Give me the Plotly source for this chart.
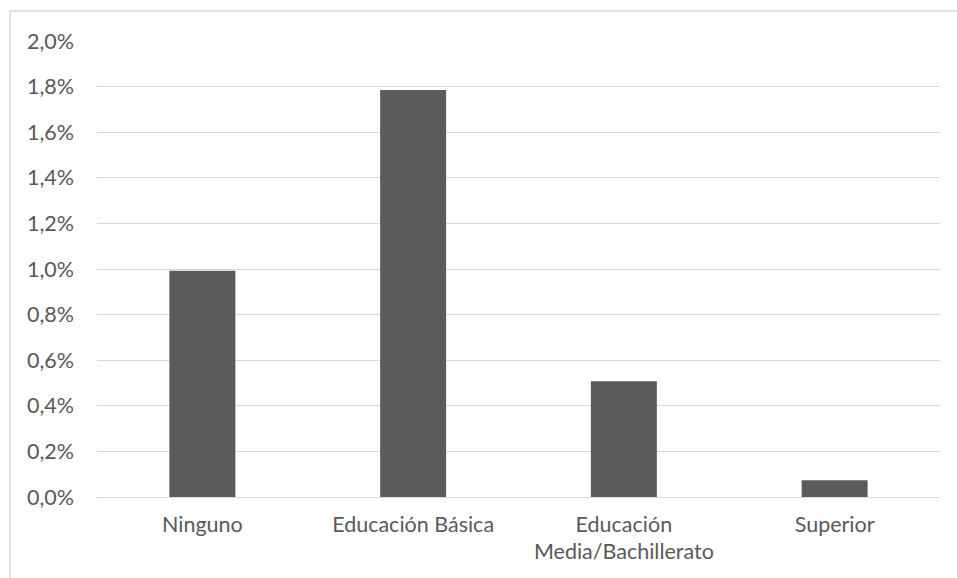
import plotly.graph_objects as go

categories = ["Ninguno", "Educación Básica", "Educación<br>Media/Bachillerato", "Superior"]
values = [0.00992, 0.01785, 0.00508, 0.00073]
y_ticks = [0, 0.002, 0.004, 0.006, 0.008, 0.010, 0.012, 0.014, 0.016, 0.018, 0.020]

W, H = 957, 578
L, R, T, B = 97, 17, 41, 81
pw, ph = W - L - R, H - T - B

fig = go.Figure(go.Bar(x=categories, y=values, marker=dict(color="#5b5b5b", line=dict(width=0)), width=0.313))

fig.update_layout(
    width=W, height=H,
    margin=dict(l=L, r=R, t=T, b=B, pad=0),
    paper_bgcolor="white", plot_bgcolor="white",
    separators=",.",
    font=dict(family="Lato, Open Sans, sans-serif", size=21.5, color="#595959"),
    showlegend=False,
    xaxis=dict(showgrid=False, showline=False, ticks="", ticklabelstandoff=12, tickfont=dict(size=21.5)),
    yaxis=dict(range=[0, 0.02], tickvals=y_ticks, tickformat=".1%", showgrid=True, gridcolor="#d9d9d9",
               gridwidth=1, zeroline=True, zerolinecolor="#d9d9d9", zerolinewidth=1, showline=False,
               ticks="", ticklabelstandoff=22, tickfont=dict(size=21.5)),
    shapes=[
        dict(type="line", xref="paper", yref="paper", x0=(10 - L) / pw, x1=(W + 5 - L) / pw,
             y0=(H - B - 11) / ph, y1=(H - B - 11) / ph, line=dict(color="#d9d9d9", width=1.5)),
        dict(type="line", xref="paper", yref="paper", x0=(10 - L) / pw, x1=(10 - L) / pw,
             y0=(H - B - 11) / ph, y1=(H - B - H - 5) / ph, line=dict(color="#d9d9d9", width=1.5)),
    ],
)

fig.write_html("out.html")
